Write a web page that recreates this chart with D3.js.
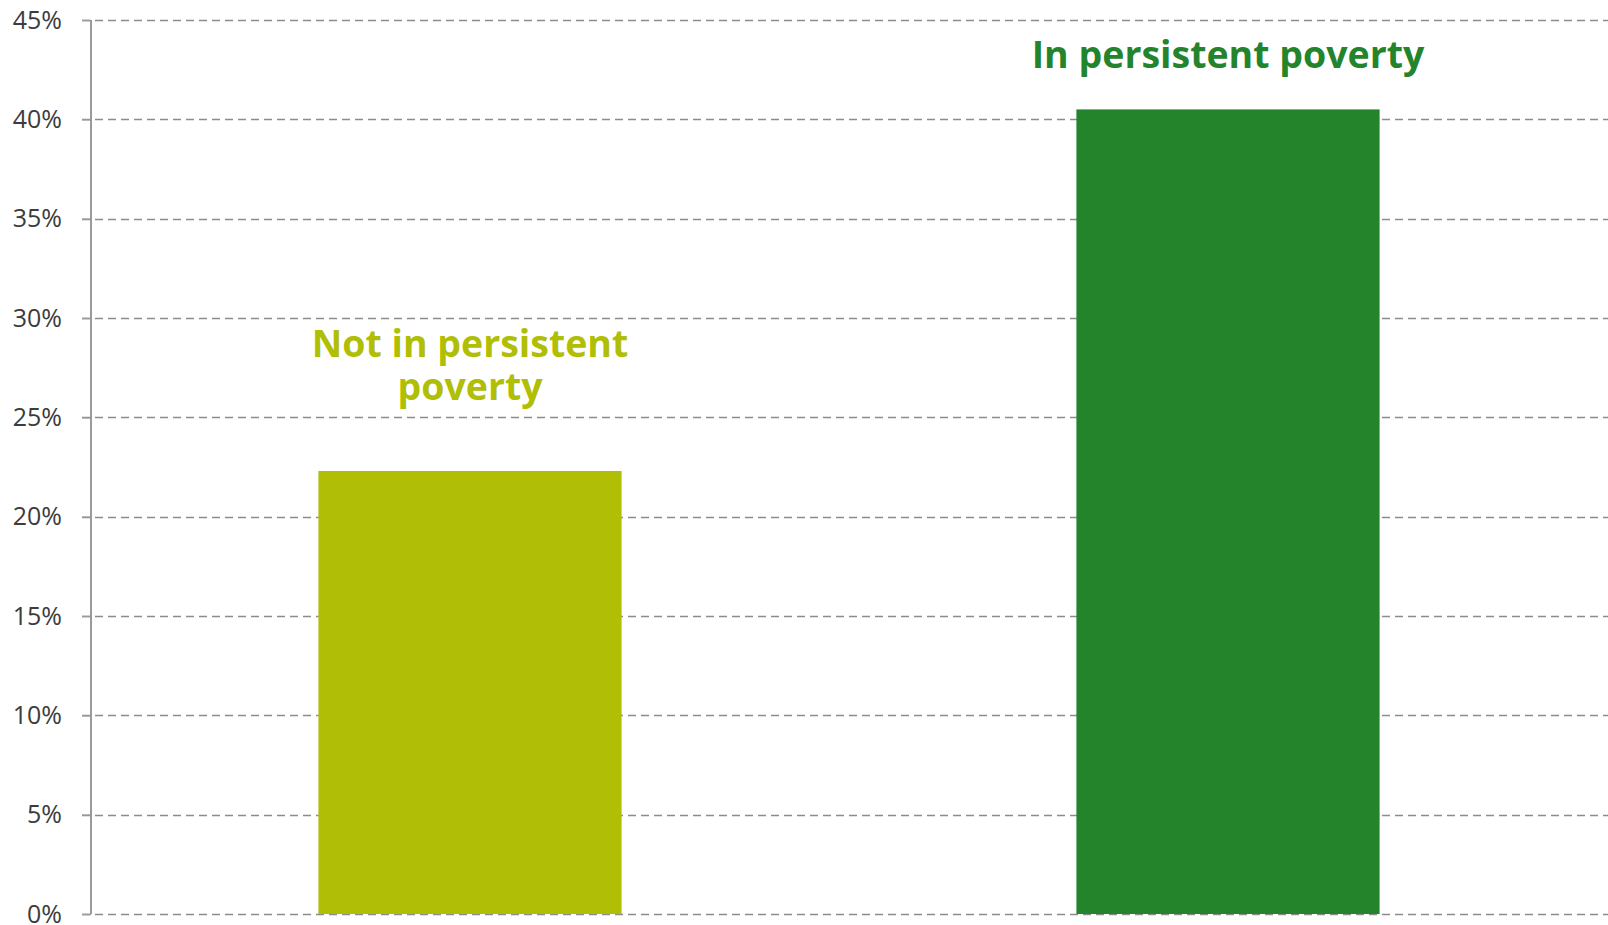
<!DOCTYPE html>
<html>
<head>
<meta charset="utf-8">
<script src="https://cdn.jsdelivr.net/npm/d3@7"></script>
<style>
  html, body { margin: 0; padding: 0; background: #ffffff; }
  svg { display: block; }
</style>
</head>
<body>
<svg id="chart" width="1608" height="925"></svg>
<script>
// ---- data ----
const categories = ["Not in persistent poverty", "In persistent poverty"];
const values = [22.3, 40.5];
const labelLines = [["Not in persistent", "poverty"], ["In persistent poverty"]];
const barColors = ["#b0be05", "#24842c"];
const yTicks = [0, 5, 10, 15, 20, 25, 30, 35, 40, 45];
// label anchor (value units, baseline of first line)
const labelAnchors = [28.04, 42.58];

// ---- layout ----
const W = 1608, H = 925;
const margin = { top: 20, right: 1, bottom: 11, left: 91 };
const svg = d3.select("#chart");

const x = d3.scaleBand()
  .domain(categories)
  .range([margin.left, W - margin.right])
  .paddingInner(0.6)
  .paddingOuter(0.3);

const y = d3.scaleLinear()
  .domain([0, 45])
  .range([H - margin.bottom, margin.top]);

// gridlines
svg.append("g")
  .selectAll("line")
  .data(yTicks)
  .join("line")
  .attr("x1", margin.left - 9)
  .attr("x2", W)
  .attr("y1", d => Math.round(y(d)) + 0.5)
  .attr("y2", d => Math.round(y(d)) + 0.5)
  .attr("stroke", "#8c8c8c")
  .attr("stroke-width", 1.5)
  .attr("stroke-dasharray", "8,5");

// bars
svg.append("g")
  .selectAll("rect")
  .data(categories)
  .join("rect")
  .attr("x", d => x(d))
  .attr("width", x.bandwidth())
  .attr("y", (d, i) => y(values[i]))
  .attr("height", (d, i) => y(0) - y(values[i]))
  .attr("fill", (d, i) => barColors[i]);

// y axis
const yAxis = d3.axisLeft(y)
  .tickValues(yTicks)
  .tickFormat(d => d + "%")
  .tickSize(9)
  .tickPadding(20);

const gy = svg.append("g")
  .attr("transform", `translate(${margin.left},0)`)
  .call(yAxis);
gy.select(".domain").attr("stroke", "#9a9a9a").attr("stroke-width", 2)
  .attr("d", `M0,${y(45)}V${y(0)}`);
gy.selectAll(".tick line").attr("stroke", "#9a9a9a").attr("stroke-width", 1.5);
gy.selectAll(".tick text")
  .attr("fill", "#3c3c3c")
  .style("font-family", "'Open Sans', 'Noto Sans', sans-serif")
  .style("font-size", "25px")
  .attr("dy", "0.33em");

// category labels
categories.forEach((c, i) => {
  const t = svg.append("text")
    .attr("x", x(c) + x.bandwidth() / 2)
    .attr("y", y(labelAnchors[i]))
    .attr("text-anchor", "middle")
    .attr("fill", barColors[i])
    .style("font-family", "'Open Sans', 'Noto Sans', sans-serif")
    .style("font-weight", "700")
    .style("font-size", "37.5px");
  labelLines[i].forEach((line, j) => {
    t.append("tspan")
      .attr("x", x(c) + x.bandwidth() / 2)
      .attr("dy", j === 0 ? 0 : 43)
      .text(line);
  });
});
</script>
</body>
</html>
